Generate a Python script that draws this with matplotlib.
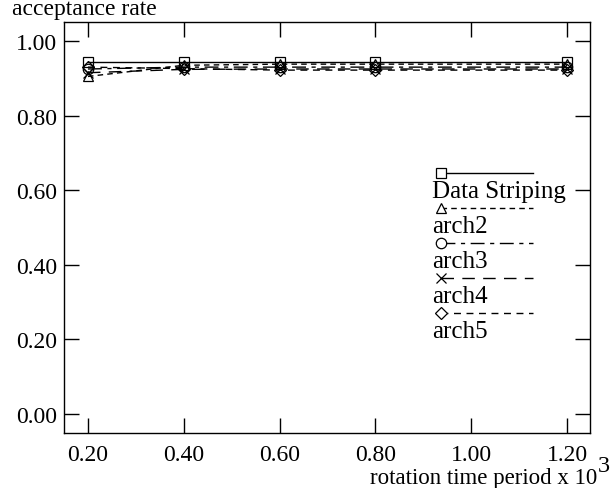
import matplotlib
matplotlib.use("Agg")
import matplotlib.pyplot as plt

plt.rcParams['font.family'] = ['Liberation Serif', 'DejaVu Serif']

x_vals = [0.20, 0.40, 0.60, 0.80, 1.20]
data_striping = [0.943, 0.943, 0.943, 0.943, 0.943]
arch2 = [0.905, 0.935, 0.938, 0.938, 0.938]
arch3 = [0.925, 0.930, 0.930, 0.930, 0.930]
arch4 = [0.915, 0.924, 0.925, 0.925, 0.925]
arch5 = [0.930, 0.926, 0.922, 0.922, 0.922]
series_names = ["Data Striping", "arch2", "arch3", "arch4", "arch5"]
x_ticks = [0.20, 0.40, 0.60, 0.80, 1.00, 1.20]
x_tick_labels = ["0.20", "0.40", "0.60", "0.80", "1.00", "1.20"]
y_ticks = [0.00, 0.20, 0.40, 0.60, 0.80, 1.00]
y_tick_labels = ["0.00", "0.20", "0.40", "0.60", "0.80", "1.00"]

series = [data_striping, arch2, arch3, arch4, arch5]
markers = ['s', '^', 'o', 'x', 'D']
msizes = [7.5, 7.5, 7.5, 7.5, 6.5]
styles = ['-', (0, (4, 3)), (0, (10, 4, 3, 4)), (0, (9, 6)), (0, (5, 4))]

fig = plt.figure(figsize=(6.13, 4.89), dpi=100)
ax = fig.add_axes([64/613, 1-434/489, 526/613, 411/489])

for vals, m, ms, ls in zip(series, markers, msizes, styles):
    ax.plot(x_vals, vals, color='black', lw=1.0, linestyle=ls, marker=m,
            markersize=ms, markerfacecolor='none', markeredgecolor='black',
            markeredgewidth=0.9)

ax.set_xlim(0.15, 1.248)
ax.set_ylim(-0.051, 1.051)
ax.set_xticks(x_ticks)
ax.set_xticklabels(x_tick_labels)
ax.set_yticks(y_ticks)
ax.set_yticklabels(y_tick_labels)
ax.tick_params(direction='in', length=11, width=1, top=True, right=True,
               labelsize=17)
ax.tick_params(axis='x', pad=8)
ax.tick_params(axis='y', pad=5)
for s in ax.spines.values():
    s.set_linewidth(1.0)

# manual legend
line_y = [0.633, 0.547, 0.462, 0.377, 0.292]
text_y = [0.589, 0.504, 0.418, 0.333, 0.248]
for name, m, ms, ls, ly, ty in zip(series_names, markers, msizes, styles, line_y, text_y):
    ax.plot([0.717, 0.892], [ly, ly], transform=ax.transAxes, color='black',
            lw=1.0, linestyle=ls, clip_on=False)
    ax.plot([0.717], [ly], transform=ax.transAxes, marker=m, markersize=ms,
            markerfacecolor='white', markeredgecolor='black',
            markeredgewidth=0.9, linestyle='none', clip_on=False)
    ax.text(0.70, ty, name, transform=ax.transAxes, fontsize=18,
            ha='left', va='center')

fig.text(12/613, 1-10/489, "acceptance rate", fontsize=17, ha='left', va='center')
fig.text(597/613, 1-479/489, "rotation time period x 10", fontsize=16.5,
         ha='right', va='center')
fig.text(598/613, 1-467/489, "3", fontsize=17.5, ha='left', va='center')

fig.savefig("out.png", dpi=100)
